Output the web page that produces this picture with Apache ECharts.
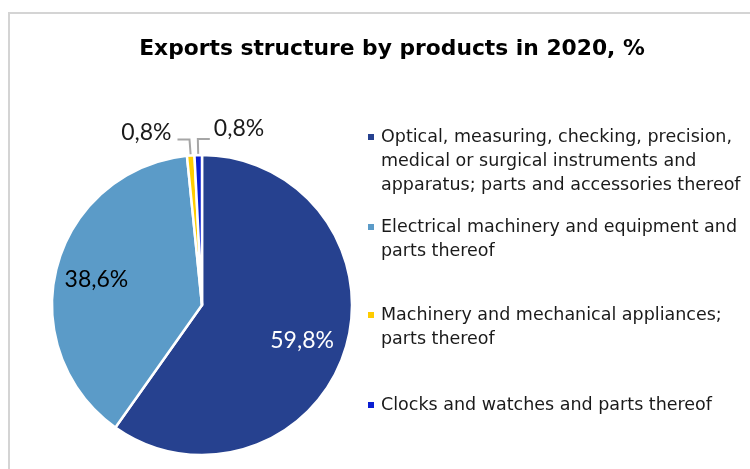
<!DOCTYPE html>
<html>
<head>
<meta charset="utf-8">
<script src="https://cdn.jsdelivr.net/npm/echarts@6/dist/echarts.min.js"></script>
<style>
html,body{margin:0;padding:0;background:#fff;}
#main{width:750px;height:469px;}
</style>
</head>
<body>
<div id="main"></div>
<script>
const titleText = 'Exports structure by products in 2020, %';
const categories = [
  'Optical, measuring, checking, precision, medical or surgical instruments and apparatus; parts and accessories thereof',
  'Electrical machinery and equipment and parts thereof',
  'Machinery and mechanical appliances; parts thereof',
  'Clocks and watches and parts thereof'
];
const legendLines = [
  ['Optical, measuring, checking, precision,', 'medical or surgical instruments and', 'apparatus; parts and accessories thereof'],
  ['Electrical machinery and equipment and', 'parts thereof'],
  ['Machinery and mechanical appliances;', 'parts thereof'],
  ['Clocks and watches and parts thereof']
];
const shares = [59.8, 38.6, 0.8, 0.8];
const colors = ['#26418F', '#5B9BC8', '#FFCC00', '#0A1ED2'];

const chart = echarts.init(document.getElementById('main'));
const CX = 202, CY = 305, R = 150;
const LH = 24;
const legendCenters = [137, 227, 315, 405];
const legendFont = 'DejaVu Sans';

const legends = categories.map((name, i) => {
  const rich = {
    m: { width: 6, height: 6, backgroundColor: colors[i] },
    g: { width: 7 },
    s: { width: 13 },
    t: { fontFamily: legendFont, fontSize: 17.5, color: '#1a1a1a', lineHeight: LH }
  };
  return {
    data: [name],
    orient: 'vertical',
    left: 362,
    top: legendCenters[i] - LH / 2,
    padding: 0,
    itemWidth: 0,
    itemHeight: 0,
    icon: 'rect',
    selectedMode: false,
    formatter: () => legendLines[i]
      .map((line, k) => (k === 0 ? '{m| }{g| }' : '{s| }') + '{t|' + line + '}')
      .join('\n'),
    textStyle: {
      fontFamily: legendFont,
      fontSize: 17.5,
      color: '#1a1a1a',
      lineHeight: LH,
      rich: rich
    }
  };
});

const fmt = v => v.toFixed(1).replace('.', ',') + '%';

chart.setOption({
  animation: false,
  backgroundColor: '#fff',
  color: colors,
  title: {
    text: titleText,
    left: 387,
    textAlign: 'center',
    top: 33,
    textStyle: { fontFamily: 'DejaVu Sans', fontWeight: 'bold', fontSize: 21.8, color: '#000' }
  },
  graphic: [{
    type: 'rect',
    shape: { x: 9, y: 13, width: 800, height: 500 },
    style: { fill: 'none', stroke: '#d4d4d4', lineWidth: 2 },
    silent: true
  }],
  legend: legends,
  series: [{
    type: 'pie',
    center: [CX, CY],
    radius: R,
    startAngle: 90,
    clockwise: true,
    avoidLabelOverlap: false,
    itemStyle: { borderColor: '#fff', borderWidth: 2.5 },
    label: {
      fontFamily: 'Lato',
      fontSize: 23,
      formatter: p => fmt(p.value)
    },
    labelLine: { length: 16, length2: 12, lineStyle: { color: '#a6a6a6', width: 2 } },
    labelLayout: function (params) {
      const i = params.dataIndex;
      const lr = params.labelRect;
      if (i < 2) {
        const lx = lr.x + lr.width / 2, ly = lr.y + lr.height / 2;
        return { dx: (lx - CX) * 0.4 - (i === 0 ? 4 : 0), dy: (ly - CY) * 0.4 + 2 };
      }
      const pts = params.labelLinePoints;
      if (!pts) return {};
      const p0 = pts[0], p1 = pts[1];
      if (i === 3) {
        const p2 = [p1[0] + 12, p1[1]];
        return { x: p2[0] + 4, y: p2[1] - 10, align: 'left', verticalAlign: 'middle', labelLinePoints: [p0, p1, p2] };
      }
      const p2 = [p1[0] - 12, p1[1]];
      return { x: p2[0] - 6, y: p2[1] - 7, align: 'right', verticalAlign: 'middle', labelLinePoints: [p0, p1, p2] };
    },
    data: categories.map((name, i) => ({
      name: name,
      value: shares[i],
      label: i < 2
        ? { position: 'inside', color: i === 0 ? '#fff' : '#000' }
        : { position: 'outside', color: '#1a1a1a' },
      labelLine: { show: i >= 2 }
    }))
  }]
});
</script>
</body>
</html>
